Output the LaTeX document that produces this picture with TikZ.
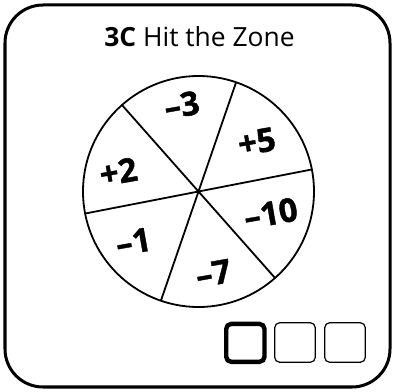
\documentclass[tikz,border=0pt]{standalone}
\usepackage{fontspec}
\setmainfont{Open Sans}
\newfontfamily\numfont[BoldFeatures={FakeBold=1.2}]{Open Sans}
\begin{document}
\begin{tikzpicture}[x=1bp,y=1bp,
  frame/.style={line width=3bp, rounded corners=38bp},
  wheel/.style={line width=1.8bp},
  num/.style={font=\fontsize{33}{33}\selectfont\numfont\bfseries, rotate=10, inner sep=0pt},
  boxthick/.style={line width=4.4bp, rounded corners=5bp},
  boxthin/.style={line width=1.2bp, rounded corners=5bp}]
\useasboundingbox (0,0) rectangle (395,392);
\draw[frame] (5,5) rectangle (390,387);
\node[inner sep=0pt] (title) at (199.5,355) {\fontsize{26.5}{26.5}\selectfont\textbf{3C} Hit the Zone};
\coordinate (c) at (198.5,200.5);
\draw[wheel] (c) circle (115.5);
\draw[wheel] (c) ++(11:115.5) coordinate (a1) -- ++(191:231) coordinate (a2);
\draw[wheel] (c) ++(71:115.5) coordinate (b1) -- ++(251:231) coordinate (b2);
\draw[wheel] (c) ++(131.5:115.5) coordinate (d1) -- ++(311.5:231) coordinate (d2);
\node[num] (m3) at (181.7,287) {–3};
\node[num] (p5) at (256.7,250.3) {+5};
\node[num] (p2) at (118.3,220.3) {+2};
\node[num] (m10) at (270.7,178.7) {–10};
\node[num] (m1) at (133.3,150.3) {–1};
\node[num] (m7) at (213.3,118.7) {–7};
\draw[boxthick] (226.2,30.2) rectangle (264.5,68.1);
\draw[boxthin] (274.7,29.7) rectangle (315.3,69.3);
\draw[boxthin] (324.7,29.7) rectangle (365.3,69.3);
\end{tikzpicture}
\end{document}
